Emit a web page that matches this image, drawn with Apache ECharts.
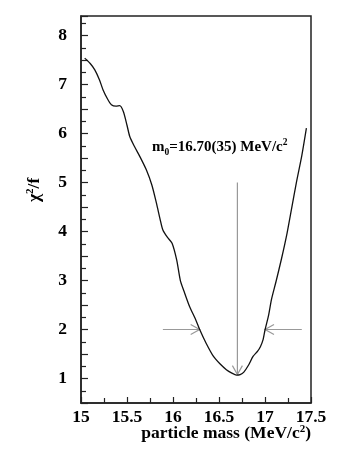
<!DOCTYPE html>
<html><head><meta charset="utf-8">
<script src="https://cdn.jsdelivr.net/npm/echarts@6/dist/echarts.min.js"></script>
<style>html,body{margin:0;padding:0;background:#fff}#c{width:350px;height:452px}</style>
</head><body><div id="c"></div>
<script>
const massValues = [15.04,15.10,15.15,15.20,15.24,15.29,15.33,15.38,15.42,15.46,15.50,15.53,15.58,15.64,15.71,15.77,15.82,15.86,15.89,15.94,15.99,16.04,16.08,16.12,16.18,16.24,16.29,16.36,16.44,16.51,16.58,16.64,16.69,16.73,16.77,16.82,16.87,16.92,16.95,16.98,17.00,17.04,17.07,17.12,17.18,17.24,17.29,17.34,17.40,17.45];
const chi2Values = [7.54,7.43,7.30,7.10,6.89,6.70,6.59,6.56,6.57,6.45,6.17,5.94,5.74,5.53,5.26,4.95,4.58,4.25,4.03,3.88,3.76,3.42,3.00,2.78,2.47,2.23,2.00,1.72,1.45,1.30,1.18,1.11,1.07,1.08,1.13,1.27,1.45,1.56,1.65,1.80,1.99,2.30,2.61,2.98,3.45,3.97,4.48,4.99,5.55,6.11];
const xTicks = [15, 15.5, 16, 16.5, 17, 17.5];
const yTicks = [1, 2, 3, 4, 5, 6, 7, 8];
// arrows: tail -> head
const arrowTails = [[16.70, 5.0], [15.89, 2.0], [17.40, 2.0]];
const arrowHeads = [[16.70, 1.08], [16.29, 2.0], [17.00, 2.0]];

const curve = massValues.map((x, i) => [x, chi2Values[i]]);
const arrows = arrowTails.map((t, i) => [t[0], t[1], arrowHeads[i][0], arrowHeads[i][1]]);
const font = '"Liberation Serif", "DejaVu Serif", serif';

const chart = echarts.init(document.getElementById('c'));
chart.setOption({
  animation: false,
  grid: { left: 81, top: 16, width: 230, height: 387, show: true, borderColor: '#222', borderWidth: 1.5, backgroundColor: 'transparent' },
  xAxis: {
    type: 'value', min: 15, max: 17.5, interval: 0.5,
    axisLine: { lineStyle: { color: '#222', width: 1.5 } },
    axisTick: { inside: true, length: 6, lineStyle: { color: '#222', width: 1.2 } },
    minorTick: { show: true, splitNumber: 2, length: 5, lineStyle: { color: '#222', width: 1.2 } },
    splitLine: { show: false },
    axisLabel: { color: '#000', fontFamily: font, fontWeight: 'bold', fontSize: 17.5, margin: 5,
      showMinLabel: true, showMaxLabel: true,
      formatter: v => xTicks.includes(+v.toFixed(2)) ? String(v) : '' }
  },
  yAxis: {
    type: 'value', min: 0.5, max: 8.4, interval: 0.5,
    axisLine: { lineStyle: { color: '#222', width: 1.5 } },
    axisTick: { inside: true, length: 7, lineStyle: { color: '#222', width: 1.2 } },
    minorTick: { show: true, splitNumber: 2, length: 5, lineStyle: { color: '#222', width: 1.2 } },
    splitLine: { show: false },
    axisLabel: { color: '#000', fontFamily: font, fontWeight: 'bold', fontSize: 17.5, margin: 14,
      formatter: v => yTicks.includes(+v.toFixed(2)) ? String(v) : '' }
  },
  series: [
    {
      type: 'line', data: curve, smooth: 0.25, symbol: 'none',
      lineStyle: { color: '#111', width: 1.3 }, z: 3
    },
    {
      type: 'custom', data: arrows, z: 2,
      renderItem: (params, api) => {
        const p0 = api.coord([api.value(0), api.value(1)]);
        const p1 = api.coord([api.value(2), api.value(3)]);
        const dx = p1[0] - p0[0], dy = p1[1] - p0[1];
        const len = Math.sqrt(dx * dx + dy * dy);
        const ux = dx / len, uy = dy / len;
        const L = 9, W = 5;
        const a = [p1[0] - ux * L - uy * W, p1[1] - uy * L + ux * W];
        const b = [p1[0] - ux * L + uy * W, p1[1] - uy * L - ux * W];
        const style = { stroke: '#999', lineWidth: 1.2, fill: null };
        return { type: 'group', children: [
          { type: 'line', shape: { x1: p0[0], y1: p0[1], x2: p1[0], y2: p1[1] }, style },
          { type: 'polyline', shape: { points: [a, p1, b] }, style }
        ] };
      }
    }
  ],
  graphic: [
    { type: 'text', left: 152, top: 138, style: {
      text: '{n|m}{s|0}{n|=16.70(35) MeV/c}{u|2}',
      rich: {
        n: { fontFamily: font, fontWeight: 'bold', fontSize: 15, fill: '#000', verticalAlign: 'bottom' },
        s: { fontFamily: font, fontWeight: 'bold', fontSize: 9.5, fill: '#000', padding: [0, 0, -3, 0], verticalAlign: 'bottom' },
        u: { fontFamily: font, fontWeight: 'bold', fontSize: 9.5, fill: '#000', padding: [0, 0, 7, 0], verticalAlign: 'bottom' }
      } } },
    { type: 'text', right: 39, top: 424, style: {
      text: '{n|particle mass (MeV/c}{u|2}{n|)}',
      rich: {
        n: { fontFamily: font, fontWeight: 'bold', fontSize: 17.5, fill: '#000', verticalAlign: 'bottom' },
        u: { fontFamily: font, fontWeight: 'bold', fontSize: 11, fill: '#000', padding: [0, 0, 7, 0], verticalAlign: 'bottom' }
      } } },
    { type: 'text', x: 25, y: 202, rotation: Math.PI / 2, style: {
      text: '{n|χ}{u|2}{n|/f}',
      rich: {
        n: { fontFamily: font, fontWeight: 'bold', fontSize: 17.5, fill: '#000', verticalAlign: 'bottom' },
        u: { fontFamily: font, fontWeight: 'bold', fontSize: 11, fill: '#000', padding: [0, 0, 7, 0], verticalAlign: 'bottom' }
      } } }
  ]
});
</script></body></html>
